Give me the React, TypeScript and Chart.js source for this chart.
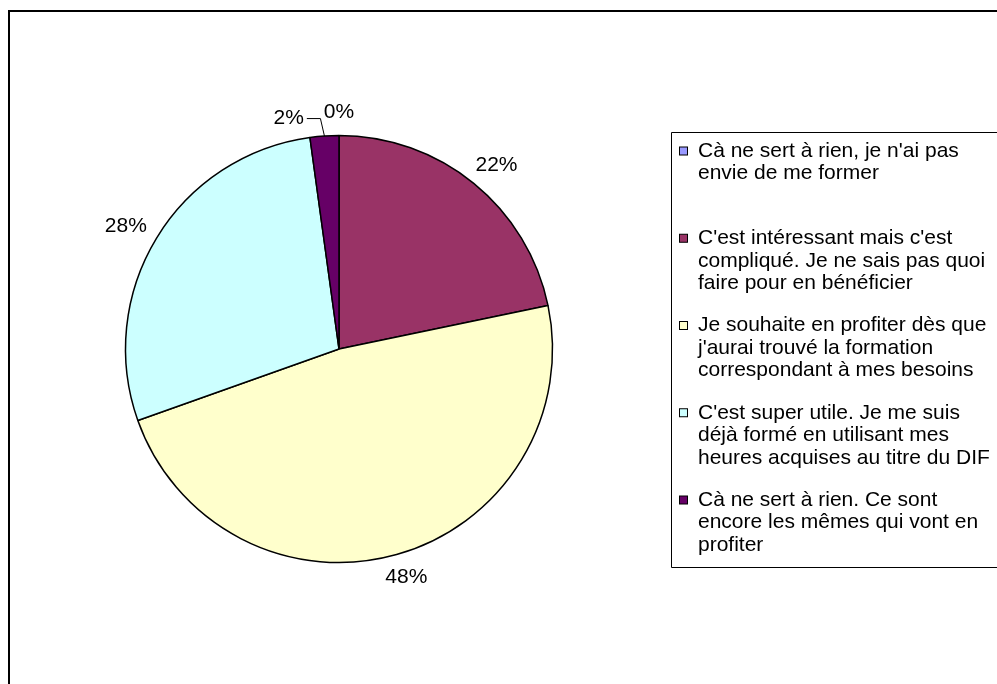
import React, { useEffect, useRef } from "react";
import { Chart, registerables } from "chart.js";

Chart.register(...registerables);

// ---- data ----
const categories: string[][] = [
  ["Cà ne sert à rien, je n'ai pas", "envie de me former"],
  ["C'est intéressant mais c'est", "compliqué. Je ne sais pas quoi", "faire pour en bénéficier"],
  ["Je souhaite en profiter dès que", "j'aurai trouvé la formation", "correspondant à mes besoins"],
  ["C'est super utile. Je me suis", "déjà formé en utilisant mes", "heures acquises au titre du DIF"],
  ["Cà ne sert à rien. Ce sont", "encore les mêmes qui vont en", "profiter"],
];
const counts: number[] = [0, 10, 22, 13, 1];
const colors: string[] = ["#9999FF", "#993366", "#FFFFCC", "#CCFFFF", "#660066"];

const W = 997;
const H = 684;
const FONT = "'Liberation Sans', Arial, Helvetica, sans-serif";
const FONT_SIZE = 21;

const framePlugin = {
  id: "frame",
  beforeDraw(chart: any) {
    const ctx = chart.ctx;
    ctx.save();
    ctx.fillStyle = "#ffffff";
    ctx.fillRect(0, 0, chart.width, chart.height);
    ctx.strokeStyle = "#000000";
    ctx.lineWidth = 2;
    ctx.strokeRect(9, 11, chart.width + 20, chart.height + 20);
    ctx.restore();
  },
};

const pctLabelPlugin = {
  id: "pctLabels",
  afterDatasetsDraw(chart: any) {
    const ctx = chart.ctx;
    const meta = chart.getDatasetMeta(0);
    const data: number[] = chart.data.datasets[0].data;
    const total = data.reduce((a: number, b: number) => a + b, 0);
    ctx.save();
    ctx.font = `${FONT_SIZE}px ${FONT}`;
    ctx.fillStyle = "#000000";
    ctx.textAlign = "center";
    ctx.textBaseline = "middle";
    const placed: { l: number; r: number; t: number; b: number }[] = [];
    const gap = 15;
    meta.data.forEach((arc: any, i: number) => {
      const p = arc.getProps(["x", "y", "startAngle", "endAngle", "outerRadius"], true);
      const mid = (p.startAngle + p.endAngle) / 2;
      const dx = Math.cos(mid);
      const dy = Math.sin(mid);
      const text = Math.round((data[i] / total) * 100) + "%";
      const tw = ctx.measureText(text).width;
      const hw = tw / 2;
      const hh = FONT_SIZE * 0.38;
      let cx = p.x + dx * (p.outerRadius + gap) + dx * hw;
      let cy = p.y + dy * (p.outerRadius + gap) + dy * hh;
      let box = { l: cx - hw, r: cx + hw, t: cy - hh, b: cy + hh };
      let moved = false;
      for (const o of placed) {
        if (box.l < o.r && box.r > o.l && box.t < o.b && box.b > o.t) {
          if (dx <= 0) {
            cx = o.l - 20 - hw;
          } else {
            cx = o.r + 20 + hw;
          }
          cy = cy + 5;
          box = { l: cx - hw, r: cx + hw, t: cy - hh, b: cy + hh };
          moved = true;
        }
      }
      placed.push(box);
      ctx.fillText(text, cx, cy);
      if (moved) {
        const ex = p.x + dx * p.outerRadius;
        const ey = p.y + dy * p.outerRadius;
        ctx.beginPath();
        ctx.lineWidth = 1;
        ctx.strokeStyle = "#000000";
        const sx = dx <= 0 ? box.r + 3 : box.l - 3;
        const hx = dx <= 0 ? ex - 4 : ex + 4;
        ctx.moveTo(sx, cy + 0.5);
        ctx.lineTo(hx, cy + 0.5);
        ctx.lineTo(ex, ey);
        ctx.stroke();
      }
    });
    ctx.restore();
  },
};

const legendPlugin = {
  id: "customLegend",
  afterDraw(chart: any) {
    const ctx = chart.ctx;
    const labels: string[][] = chart.data.labels;
    const bg: string[] = chart.data.datasets[0].backgroundColor;
    const boxL = 671.5;
    const boxT = 132.5;
    const boxB = 567.5;
    const firstY = 151;
    const step = 87.25;
    const lineH = 22.5;
    ctx.save();
    ctx.strokeStyle = "#000000";
    ctx.lineWidth = 1;
    ctx.beginPath();
    ctx.moveTo(chart.width + 5, boxT);
    ctx.lineTo(boxL, boxT);
    ctx.lineTo(boxL, boxB);
    ctx.lineTo(chart.width + 5, boxB);
    ctx.stroke();
    ctx.font = `${FONT_SIZE}px ${FONT}`;
    ctx.textAlign = "left";
    ctx.textBaseline = "middle";
    labels.forEach((lines, i) => {
      const y0 = firstY + i * step;
      ctx.fillStyle = bg[i];
      ctx.fillRect(679.5, y0 - 4, 8, 8);
      ctx.strokeStyle = "#000000";
      ctx.strokeRect(679.5, y0 - 4, 8, 8);
      ctx.fillStyle = "#000000";
      lines.forEach((ln, j) => {
        ctx.fillText(ln, 698, y0 + j * lineH);
      });
    });
    ctx.restore();
  },
};

export default function App() {
  const ref = useRef<HTMLCanvasElement | null>(null);
  useEffect(() => {
    if (!ref.current) return;
    const cx = 339;
    const cy = 349;
    const side = 428.5;
    const chart = new Chart(ref.current, {
      type: "pie",
      data: {
        labels: categories as any,
        datasets: [
          {
            data: counts,
            backgroundColor: colors,
            borderColor: "#000000",
            borderWidth: 1.5,
          },
        ],
      },
      options: {
        responsive: false,
        animation: false,
        events: [],
        layout: {
          padding: {
            left: cx - side / 2,
            top: cy - side / 2,
            right: W - (cx + side / 2),
            bottom: H - (cy + side / 2),
          },
        },
        plugins: {
          legend: { display: false },
          tooltip: { enabled: false },
          title: { display: false },
        },
      },
      plugins: [framePlugin, pctLabelPlugin, legendPlugin],
    });
    return () => chart.destroy();
  }, []);
  return (
    <div style={{ position: "absolute", left: 0, top: 0, width: W, height: H, background: "#fff" }}>
      <canvas ref={ref} width={W} height={H} style={{ display: "block", width: W, height: H }} />
    </div>
  );
}
